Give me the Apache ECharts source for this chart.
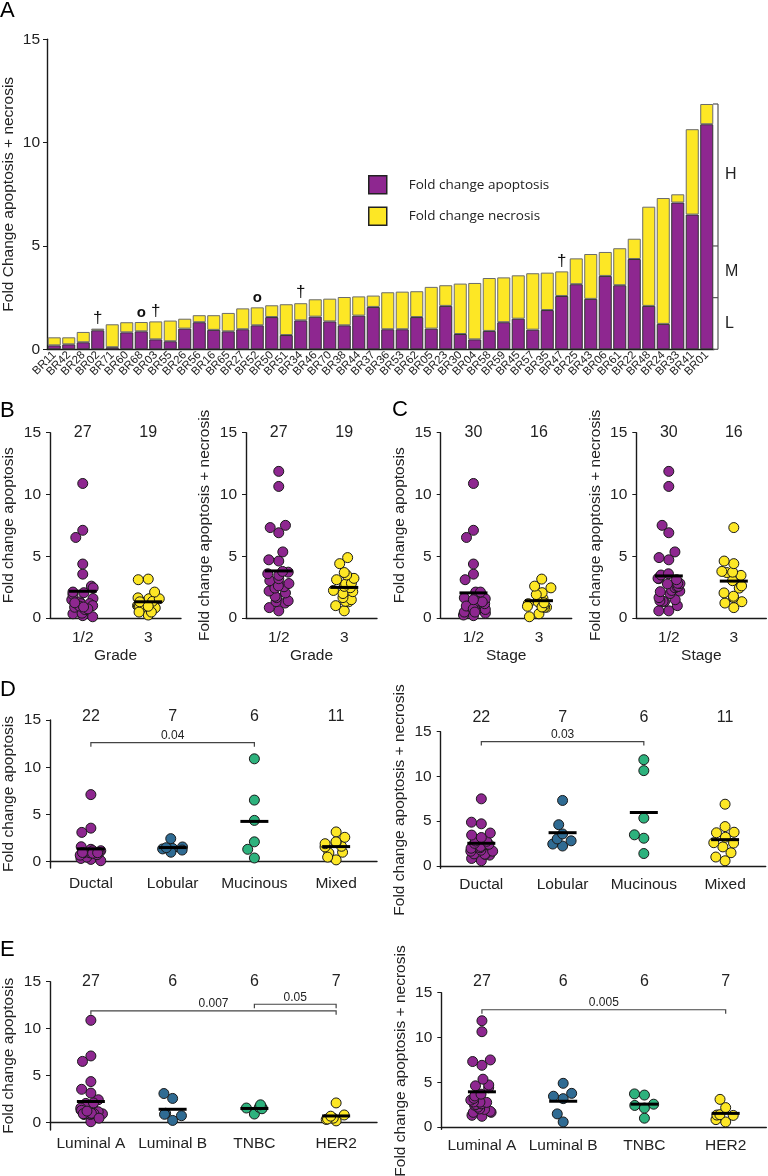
<!DOCTYPE html>
<html>
<head>
<meta charset="utf-8">
<title>Fold change apoptosis and necrosis</title>
<script src="https://cdn.jsdelivr.net/npm/echarts@6/dist/echarts.min.js"></script>
<style>
  html, body { margin: 0; padding: 0; background: #fff; }
  #chart { width: 768px; height: 1176px; }
</style>
</head>
<body>
<div id="chart"></div>
<script>
// patients in the order of panel A (sorted by apoptosis + necrosis)
var patients = ['BR11','BR42','BR28','BR02','BR71','BR60','BR68','BR03','BR55','BR26','BR56','BR16','BR65','BR27','BR52','BR50','BR51','BR34','BR46','BR70','BR38','BR44','BR37','BR36','BR53','BR62','BR05','BR23','BR30','BR04','BR58','BR59','BR45','BR57','BR35','BR47','BR25','BR43','BR06','BR61','BR22','BR48','BR24','BR33','BR41','BR01'];
var apoptosis = [0.19,0.24,0.34,0.92,0.10,0.82,0.87,0.48,0.39,1.00,1.31,0.94,0.87,0.97,1.16,1.56,0.69,1.40,1.58,1.35,1.16,1.63,2.05,0.97,0.97,1.56,1.00,2.10,0.74,0.48,0.89,1.31,1.48,0.95,1.90,2.58,3.15,2.44,3.55,3.10,4.37,2.10,1.23,7.10,6.52,10.89];
var necrosis = [0.39,0.34,0.50,0.08,1.11,0.49,0.45,0.87,1.00,0.48,0.34,0.71,0.89,1.01,0.87,0.57,1.49,0.83,0.84,1.10,1.37,0.93,0.55,1.79,1.82,1.25,2.02,1.00,2.44,2.73,2.56,2.17,2.10,2.73,1.81,1.19,1.25,2.17,1.16,1.79,0.98,4.80,6.09,0.40,4.13,0.98];

// clinical groups per patient (index into the label lists below)
var grade     = [0,1,0,1,0,1,0,1,0,1,0,1,0,1,0,1,0,1,0,1,0,1,0,1,0,1,0,1,0,1,0,1,0,1,0,0,1,0,0,1,0,0,0,0,0,0];
var stage     = [0,0,1,0,1,0,1,0,0,0,1,0,1,0,1,0,0,0,1,0,0,0,1,0,0,0,1,0,0,0,1,0,0,1,1,1,1,1,0,0,0,0,1,0,0,0];
var histology = [3,0,0,3,0,0,0,0,2,3,0,0,0,0,0,3,0,1,0,1,0,3,3,0,0,1,1,2,0,3,0,2,1,0,3,3,3,1,0,0,2,3,1,0,2,2];
var subtype   = [3,1,3,2,0,3,0,3,3,1,0,0,0,0,0,2,3,0,2,0,0,2,0,0,0,0,0,3,1,0,1,0,2,0,2,1,0,0,0,1,0,0,0,0,0,0];

var gradeLabels = ['1/2', '3'];
var stageLabels = ['1/2', '3'];
var histologyLabels = ['Ductal', 'Lobular', 'Mucinous', 'Mixed'];
var subtypeLabels = ['Luminal A', 'Luminal B', 'TNBC', 'HER2'];

var barNotes = { BR02: '\u2020', BR68: 'o', BR03: '\u2020', BR52: 'o', BR34: '\u2020', BR47: '\u2020' };
var riskBreaks = [0, 2.5, 5];
var riskLabels = ['L', 'M', 'H'];
var yTicks = [0, 5, 10, 15];

// [from group, to group, level, p value]
var histApopBrackets = [[0, 2, 12.6, '0.04']];
var histTotalBrackets = [[0, 2, 13.9, '0.03']];
var subApopBrackets = [[0, 3, 11.9, '0.007'], [2, 3, 12.6, '0.05']];
var subTotalBrackets = [[0, 3, 13.1, '0.005']];

var FONT = '"Liberation Sans", Arial, sans-serif';
var PURPLE = '#8E2790', YELLOW = '#FDE725', BLUE = '#2F6B93', GREEN = '#2DB27D';
var INK = '#1a1a1a';
var NAME_APOP = 'Fold change apoptosis';
var NAME_TOTAL = 'Fold change apoptosis + necrosis';

var totals = apoptosis.map(function (a, i) { return +(a + necrosis[i]).toFixed(2); });

function pick(values, groups, g) {
  var out = [];
  values.forEach(function (v, i) { if (groups[i] === g) out.push(v); });
  return out;
}
function mean(arr) {
  var s = 0;
  arr.forEach(function (v) { s += v; });
  return s / arr.length;
}

var panels = [
  { box: [50, 432.7, 131, 185.3], groups: grade, labels: gradeLabels, values: apoptosis, yMin: 0, yName: NAME_APOP, xName: 'Grade', countMargin: -8, labelMargin: 12, brackets: [] },
  { box: [246, 432.7, 131, 185.3], groups: grade, labels: gradeLabels, values: totals, yMin: 0, yName: NAME_TOTAL, xName: 'Grade', countMargin: -8, labelMargin: 12, brackets: [] },
  { box: [440.7, 432.7, 131, 185.3], groups: stage, labels: stageLabels, values: apoptosis, yMin: 0, yName: NAME_APOP, xName: 'Stage', countMargin: -8, labelMargin: 12, brackets: [] },
  { box: [636.3, 432.7, 130, 185.3], groups: stage, labels: stageLabels, values: totals, yMin: 0, yName: NAME_TOTAL, xName: 'Stage', countMargin: -8, labelMargin: 12, brackets: [] },
  { box: [50, 720, 327, 148], groups: histology, labels: histologyLabels, values: apoptosis, yMin: -0.67, yName: NAME_APOP, xName: '', countMargin: -5, labelMargin: 8, brackets: histApopBrackets },
  { box: [440.7, 731.7, 325, 136.6], groups: histology, labels: histologyLabels, values: totals, yMin: -0.26, yName: NAME_TOTAL, xName: '', countMargin: 6.5, labelMargin: 8, brackets: histTotalBrackets },
  { box: [50, 981.7, 327, 148.3], groups: subtype, labels: subtypeLabels, values: apoptosis, yMin: -0.78, yName: NAME_APOP, xName: '', countMargin: -7.5, labelMargin: 6, brackets: subApopBrackets },
  { box: [441.3, 992.7, 325, 136.6], groups: subtype, labels: subtypeLabels, values: totals, yMin: -0.24, yName: NAME_TOTAL, xName: '', countMargin: 3.5, labelMargin: 8, brackets: subTotalBrackets }
];

var axisLineStyle = { color: INK, width: 1.4 };

var option = {
  animation: false,
  backgroundColor: '#fff',
  textStyle: { fontFamily: FONT, color: '#222' },
  legend: {
    data: ['Fold change apoptosis', 'Fold change necrosis'],
    orient: 'vertical',
    left: 363,
    top: 170,
    itemWidth: 18,
    itemHeight: 18,
    itemGap: 12,
    icon: 'rect',
    selectedMode: false,
    itemStyle: { borderColor: '#222', borderWidth: 1.5 },
    textStyle: { fontFamily: '"Open Sans", sans-serif', fontSize: 13.5, color: '#222', padding: [0, 0, 0, 17] }
  },
  grid: [],
  xAxis: [],
  yAxis: [],
  series: [],
  graphic: [
    { type: 'text', left: 0, top: 0, style: { text: 'A', fontSize: 22, fontFamily: FONT, fill: '#000' } },
    { type: 'text', left: 0, top: 400, style: { text: 'B', fontSize: 22, fontFamily: FONT, fill: '#000' } },
    { type: 'text', left: 392, top: 399, style: { text: 'C', fontSize: 22, fontFamily: FONT, fill: '#000' } },
    { type: 'text', left: 0, top: 679, style: { text: 'D', fontSize: 22, fontFamily: FONT, fill: '#000' } },
    { type: 'text', left: 0, top: 939, style: { text: 'E', fontSize: 22, fontFamily: FONT, fill: '#000' } }
  ]
};

// ---- panel A: stacked bars ----
option.grid.push({ left: 47, top: 39.3, width: 667, height: 310, outerBoundsMode: 'none' });
option.xAxis.push({
  gridIndex: 0, type: 'category', data: patients,
  axisLine: { lineStyle: axisLineStyle },
  axisTick: { alignWithLabel: true, interval: 0, length: 4, lineStyle: { color: INK } },
  axisLabel: { rotate: 45, interval: 0, fontSize: 11.5, color: '#222', margin: 4 }
});
option.yAxis.push({
  gridIndex: 0, type: 'value', min: 0, max: 15, interval: 5,
  name: 'Fold Change apoptosis + necrosis', nameLocation: 'middle', nameGap: 30, nameMoveOverlap: false,
  nameTextStyle: { fontSize: 15.5, color: '#222' },
  axisLine: { show: true, lineStyle: axisLineStyle },
  axisTick: { show: true, length: 4, lineStyle: { color: INK } },
  axisLabel: { fontSize: 15.5, color: '#222', margin: 7 },
  splitLine: { show: false }
});

var necrosisData = necrosis.map(function (v, i) {
  var note = barNotes[patients[i]];
  if (!note) return v;
  return {
    value: v,
    label: {
      show: true, position: 'top', distance: 2, formatter: note,
      fontSize: note === 'o' ? 15 : 17, fontWeight: note === 'o' ? 'bold' : 'normal', color: '#111'
    }
  };
});

option.series.push({
  type: 'bar', name: 'Fold change apoptosis', xAxisIndex: 0, yAxisIndex: 0, stack: 'A',
  data: apoptosis, barCategoryGap: '10%',
  itemStyle: { color: PURPLE, borderColor: '#333', borderWidth: 1 }
});
option.series.push({
  type: 'bar', name: 'Fold change necrosis', xAxisIndex: 0, yAxisIndex: 0, stack: 'A',
  data: necrosisData, barCategoryGap: '10%',
  itemStyle: { color: YELLOW, borderColor: '#6b6b6b', borderWidth: 1 }
});

// L / M / H bracket on the right of panel A
var topTotal = Math.max.apply(null, totals);
option.series.push({
  type: 'custom', xAxisIndex: 0, yAxisIndex: 0, z: 5, silent: true,
  data: [[patients.length - 1, 0]],
  encode: { x: 0, y: 1 },
  renderItem: function (params, api) {
    var last = patients.length - 1;
    var band = api.size([1, 0])[0];
    var x = api.coord([last, 0])[0] + band / 2 + 4;
    var stops = riskBreaks.concat([topTotal]);
    var line = { stroke: '#555', lineWidth: 1.2 };
    var children = [{
      type: 'line',
      shape: { x1: x, y1: api.coord([last, 0])[1], x2: x, y2: api.coord([last, topTotal])[1] },
      style: line
    }];
    stops.forEach(function (v) {
      var y = api.coord([last, v])[1];
      children.push({ type: 'line', shape: { x1: x - 5, y1: y, x2: x, y2: y }, style: line });
    });
    riskLabels.forEach(function (t, i) {
      var y = api.coord([last, (stops[i] + stops[i + 1]) / 2])[1];
      children.push({
        type: 'text',
        style: { text: t, x: x + 7, y: y, verticalAlign: 'middle', fontSize: 16, fontFamily: FONT, fill: '#222' }
      });
    });
    return { type: 'group', children: children };
  }
});

// ---- panels B-E: dot plots ----
function meanRenderer(params, api) {
  var p = api.coord([api.value(0), api.value(1)]);
  return {
    type: 'line',
    shape: { x1: p[0] - 14, y1: p[1], x2: p[0] + 14, y2: p[1] },
    style: { stroke: '#000', lineWidth: 3 }
  };
}
function bracketRenderer(list) {
  return function (params, api) {
    var b = list[params.dataIndex];
    var p0 = api.coord([b[0], b[2]]);
    var p1 = api.coord([b[1], b[2]]);
    return {
      type: 'group',
      children: [
        {
          type: 'polyline',
          shape: { points: [[p0[0], p0[1] + 4], [p0[0], p0[1]], [p1[0], p1[1]], [p1[0], p1[1] + 4]] },
          style: { stroke: '#444', lineWidth: 1.2, fill: null }
        },
        {
          type: 'text',
          style: {
            text: b[3], x: (p0[0] + p1[0]) / 2, y: p0[1] - 1,
            align: 'center', verticalAlign: 'bottom', fontSize: 12, fontFamily: FONT, fill: '#222'
          }
        }
      ]
    };
  };
}

panels.forEach(function (pn, k) {
  var gi = k + 1;
  var xi = option.xAxis.length;
  var yi = option.yAxis.length;
  var colors = pn.labels.length === 2 ? [PURPLE, YELLOW] : [PURPLE, BLUE, GREEN, YELLOW];
  var counts = pn.labels.map(function (l, g) { return String(pick(pn.values, pn.groups, g).length); });

  option.grid.push({ left: pn.box[0], top: pn.box[1], width: pn.box[2], height: pn.box[3], outerBoundsMode: 'none' });

  option.xAxis.push({
    gridIndex: gi, type: 'category', data: pn.labels,
    jitter: 24, jitterOverlap: false, jitterMargin: 0,
    name: pn.xName, nameLocation: 'middle', nameGap: 30,
    nameTextStyle: { fontSize: 15.5, color: '#222' },
    axisLine: { lineStyle: axisLineStyle },
    axisTick: { alignWithLabel: true, length: 4, lineStyle: { color: INK } },
    axisLabel: { fontSize: 15.5, color: '#222', margin: pn.labelMargin, interval: 0 }
  });
  option.xAxis.push({
    gridIndex: gi, type: 'category', data: counts, position: 'top',
    axisLine: { show: false }, axisTick: { show: false },
    axisLabel: { fontSize: 16, color: '#222', margin: pn.countMargin, interval: 0 }
  });
  option.yAxis.push({
    gridIndex: gi, type: 'value', min: pn.yMin, max: 15,
    name: pn.yName, nameLocation: 'middle', nameGap: 33, nameMoveOverlap: false,
    nameTextStyle: { fontSize: 15.5, color: '#222' },
    axisLine: { show: true, lineStyle: axisLineStyle },
    axisTick: { show: true, length: 4, customValues: yTicks, lineStyle: { color: INK } },
    axisLabel: { fontSize: 15.5, color: '#222', margin: 9, customValues: yTicks },
    splitLine: { show: false }
  });

  pn.labels.forEach(function (l, g) {
    option.series.push({
      type: 'scatter', xAxisIndex: xi, yAxisIndex: yi, z: 2, clip: false,
      symbol: 'circle', symbolSize: 10,
      itemStyle: { color: colors[g], borderColor: INK, borderWidth: 1, opacity: 1 },
      data: pick(pn.values, pn.groups, g).map(function (v) { return [g, v]; })
    });
  });

  option.series.push({
    type: 'custom', xAxisIndex: xi, yAxisIndex: yi, z: 4, silent: true,
    encode: { x: 0, y: 1 },
    data: pn.labels.map(function (l, g) { return [g, mean(pick(pn.values, pn.groups, g))]; }),
    renderItem: meanRenderer
  });

  if (pn.brackets.length) {
    option.series.push({
      type: 'custom', xAxisIndex: xi, yAxisIndex: yi, z: 4, silent: true,
      encode: { x: 0, y: 1 },
      data: pn.brackets.map(function (b) { return [b[0], b[2]]; }),
      renderItem: bracketRenderer(pn.brackets)
    });
  }
});

var chart = echarts.init(document.getElementById('chart'), null, { renderer: 'canvas' });
chart.setOption(option);
</script>
</body>
</html>
